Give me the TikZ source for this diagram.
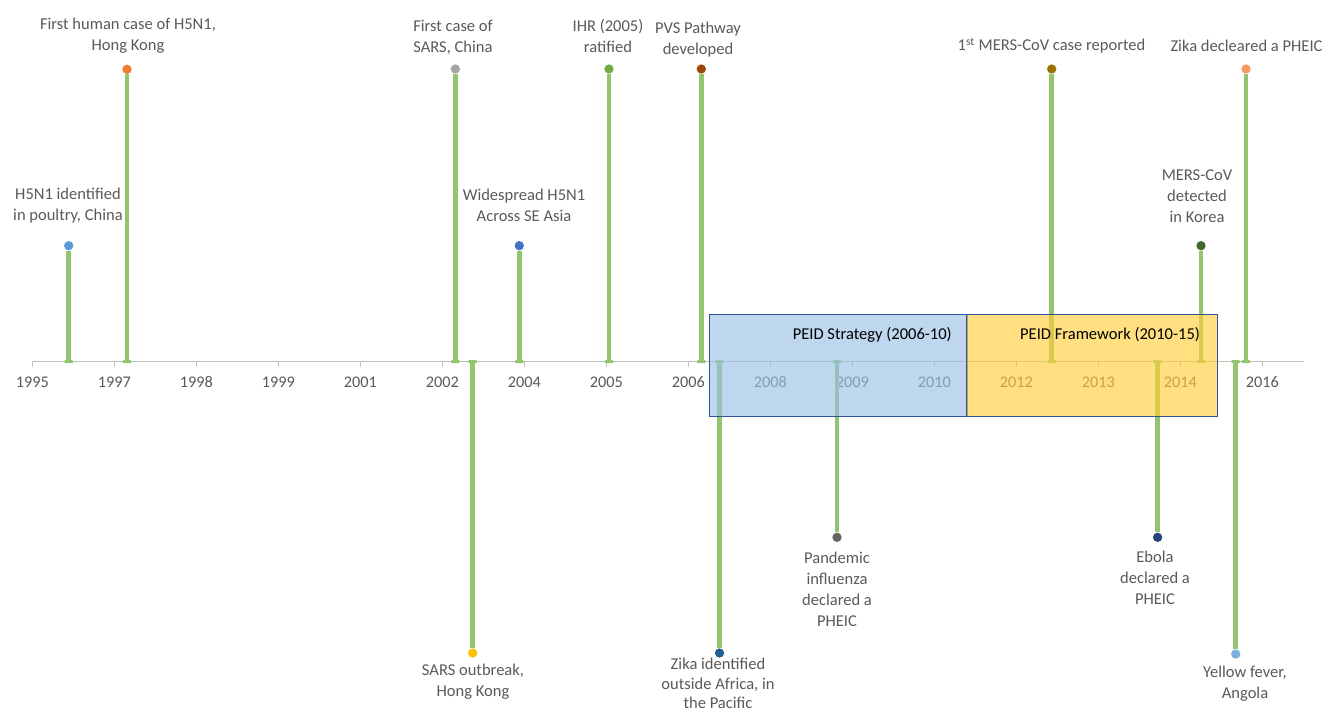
\documentclass[tikz,border=0pt]{standalone}
\usepackage{fontspec}
\setmainfont{Carlito}
\usetikzlibrary{positioning}
\definecolor{stemgreen}{RGB}{146,197,110}
\definecolor{axisgray}{RGB}{191,191,191}
\definecolor{txtgray}{RGB}{89,89,89}
\definecolor{stratblue}{RGB}{155,192,229}
\definecolor{frameyellow}{RGB}{255,206,60}
\definecolor{boxedge}{RGB}{47,85,151}
\definecolor{dotA}{RGB}{91,155,213}
\definecolor{dotB}{RGB}{237,125,49}
\definecolor{dotC}{RGB}{165,165,165}
\definecolor{dotD}{RGB}{68,114,196}
\definecolor{dotE}{RGB}{112,173,71}
\definecolor{dotF}{RGB}{158,72,14}
\definecolor{dotG}{RGB}{153,115,0}
\definecolor{dotH}{RGB}{244,153,100}
\definecolor{dotI}{RGB}{67,104,43}
\definecolor{dotJ}{RGB}{255,192,0}
\definecolor{dotK}{RGB}{37,94,145}
\definecolor{dotL}{RGB}{99,99,99}
\definecolor{dotM}{RGB}{38,68,120}
\definecolor{dotN}{RGB}{124,175,221}
\tikzset{
	stem/.style={draw=stemgreen, line width=3.4pt},
	foot/.style={rectangle, fill=stemgreen, inner sep=0pt, minimum width=6.8pt, minimum height=2.2pt, rounded corners=0.8pt},
	dot/.style={circle, inner sep=0pt, minimum size=7pt},
	evlabel/.style={align=center, text=txtgray, inner sep=0pt, font=\fontsize{12.4}{15.75}\selectfont},
	yearlabel/.style={text=txtgray, inner sep=0pt, font=\fontsize{12.2}{14}\selectfont},
	axisline/.style={draw=axisgray, line width=0.9pt},
	period/.style={rectangle, draw=boxedge, line width=0.75pt, fill opacity=0.65, minimum height=77pt, inner sep=0pt},
	periodlabel/.style={text=black, inner sep=0pt, font=\fontsize{12.4}{15}\selectfont},
}
\begin{document}
\begin{tikzpicture}[x=0.75pt, y=-0.75pt]
		\useasboundingbox (0,0) rectangle (1327,711);
		%The time axis
		\coordinate (axleft) at (32,361.7);
		\coordinate (axright) at (1304,361.7);
		\draw [axisline] (axleft) -- (axright);
		%Ticks and years
		\foreach \i/\yr in {0/1995,1/1997,2/1998,3/1999,4/2001,5/2002,6/2004,7/2005,8/2006,9/2008,10/2009,11/2010,12/2012,13/2013,14/2014,15/2016} {
			\coordinate (tick\i) at (32.3+82*\i,361.7);
			\draw [axisline] (tick\i) -- ++(0,5);
			\node [yearlabel] (year\i) at (32.3+82*\i,382.3) {\yr};
		}
		%Events above the axis
		%event1
		\node [foot] (foot1) at (68.7,361.7) {};
		\node [dot, fill=dotA] (ev1) at (68.7,245.7) {};
		\draw [stem] (foot1) -- (ev1);
		%event2
		\node [foot] (foot2) at (127,361.7) {};
		\node [dot, fill=dotB] (ev2) at (127,69.3) {};
		\draw [stem] (foot2) -- (ev2);
		%event3
		\node [foot] (foot3) at (455.3,361.7) {};
		\node [dot, fill=dotC] (ev3) at (455.3,69) {};
		\draw [stem] (foot3) -- (ev3);
		%event4
		\node [foot] (foot4) at (519.3,361.7) {};
		\node [dot, fill=dotD] (ev4) at (519.3,245.7) {};
		\draw [stem] (foot4) -- (ev4);
		%event5
		\node [foot] (foot5) at (609,361.7) {};
		\node [dot, fill=dotE] (ev5) at (609,69) {};
		\draw [stem] (foot5) -- (ev5);
		%event6
		\node [foot] (foot6) at (701.3,361.7) {};
		\node [dot, fill=dotF] (ev6) at (701.3,69) {};
		\draw [stem] (foot6) -- (ev6);
		%event7
		\node [foot] (foot7) at (1051.7,361.7) {};
		\node [dot, fill=dotG] (ev7) at (1051.7,69) {};
		\draw [stem] (foot7) -- (ev7);
		%event8
		\node [foot] (foot8) at (1246,361.7) {};
		\node [dot, fill=dotH] (ev8) at (1246,69) {};
		\draw [stem] (foot8) -- (ev8);
		%event9
		\node [foot] (foot9) at (1201,361.7) {};
		\node [dot, fill=dotI] (ev9) at (1201,245.7) {};
		\draw [stem] (foot9) -- (ev9);
		%Events below the axis
		%event10
		\node [foot] (foot10) at (472.7,361.7) {};
		\node [dot, fill=dotJ] (ev10) at (472.7,653) {};
		\draw [stem] (foot10) -- (ev10);
		%event11
		\node [foot] (foot11) at (719.5,361.7) {};
		\node [dot, fill=dotK] (ev11) at (719.5,653) {};
		\draw [stem] (foot11) -- (ev11);
		%event12
		\node [foot] (foot12) at (837,361.7) {};
		\node [dot, fill=dotL] (ev12) at (837,537.3) {};
		\draw [stem] (foot12) -- (ev12);
		%event13
		\node [foot] (foot13) at (1157.6,361.7) {};
		\node [dot, fill=dotM] (ev13) at (1157.6,537.3) {};
		\draw [stem] (foot13) -- (ev13);
		%event14
		\node [foot] (foot14) at (1235.7,361.7) {};
		\node [dot, fill=dotN] (ev14) at (1235.7,654) {};
		\draw [stem] (foot14) -- (ev14);
		%The two periods on top
		\node [period, fill=stratblue, minimum width=193.5pt] (strategy) at (838,365.35) {};
		\node [period, fill=frameyellow, minimum width=187.9pt] (framework) at (1092.25,365.35) {};
		\node [periodlabel, anchor=east] (strategytext) at (952,335) {PEID Strategy (2006-10)};
		\node [periodlabel] (frameworktext) at (1110,335) {PEID Framework (2010-15)};
		%The labels
		\node [evlabel] (lab1) at (68,206) {H5N1 identified\\in poultry, China};
		\node [evlabel] (lab2) at (128,35.3) {First human case of H5N1,\\Hong Kong};
		\node [evlabel] (lab3) at (453,37.5) {First case of\\SARS, China};
		\node [evlabel] (lab4) at (524,205.5) {Widespread H5N1\\Across SE Asia};
		\node [evlabel] (lab5) at (608,36.5) {IHR (2005)\\ratified};
		\node [evlabel] (lab6) at (698,39.5) {PVS Pathway\\developed};
		\node [evlabel] (lab7) at (1051.5,45.7) {1\textsuperscript{st} MERS-CoV case reported};
		\node [evlabel] (lab8) at (1246.5,45.7) {Zika decleared a PHEIC};
		\node [evlabel] (lab9) at (1197,196.3) {MERS-CoV\\detected\\in Korea};
		\node [evlabel] (lab10) at (473,682) {SARS outbreak,\\Hong Kong};
		\node [evlabel, font=\fontsize{12.4}{14.6}\selectfont] (lab11) at (718,683.5) {Zika identified\\outside Africa, in\\the Pacific};
		\node [evlabel] (lab12) at (837,589.5) {Pandemic\\influenza\\declared a\\PHEIC};
		\node [evlabel] (lab13) at (1155,578.2) {Ebola\\declared a\\PHEIC};
		\node [evlabel] (lab14) at (1245,683.7) {Yellow fever,\\Angola};
\end{tikzpicture}
\end{document}
